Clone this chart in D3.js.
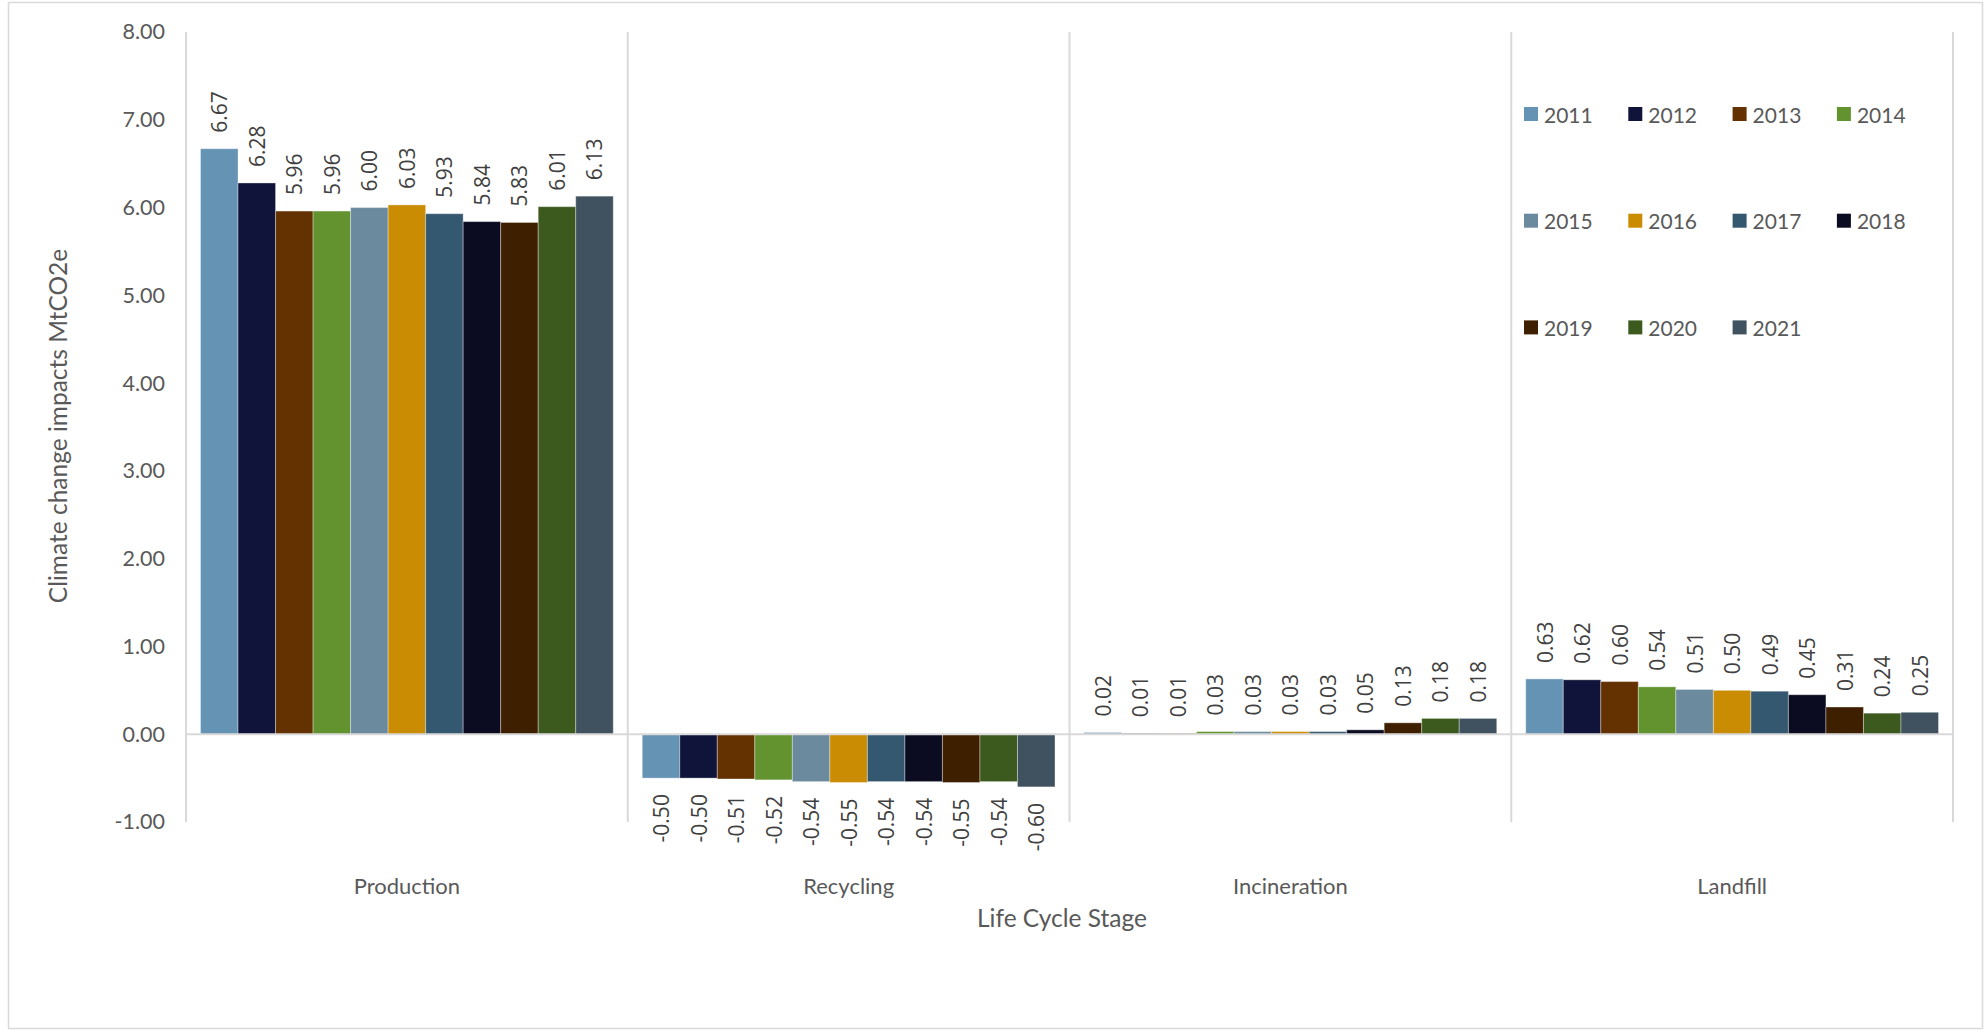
<!DOCTYPE html>
<html>
<head>
<meta charset="utf-8">
<script src="https://cdn.jsdelivr.net/npm/d3@7"></script>
<style>
  html, body { margin: 0; padding: 0; background: #fff; }
  svg { display: block; }
</style>
</head>
<body>
<svg id="chart" width="1986" height="1032"></svg>
<script>
// Life cycle stages (categories) and reporting years (series)
const stages = ["Production", "Recycling", "Incineration", "Landfill"];
const years = ["2011", "2012", "2013", "2014", "2015", "2016", "2017", "2018", "2019", "2020", "2021"];

// Climate change impacts per stage, one value per year (MtCO2e)
const production   = [6.67, 6.28, 5.96, 5.96, 6.00, 6.03, 5.93, 5.84, 5.83, 6.01, 6.13];
const recycling    = [-0.50, -0.50, -0.51, -0.52, -0.54, -0.55, -0.54, -0.54, -0.55, -0.54, -0.60];
const incineration = [0.02, 0.01, 0.01, 0.03, 0.03, 0.03, 0.03, 0.05, 0.13, 0.18, 0.18];
const landfill     = [0.63, 0.62, 0.60, 0.54, 0.51, 0.50, 0.49, 0.45, 0.31, 0.24, 0.25];

const yTicks = [-1, 0, 1, 2, 3, 4, 5, 6, 7, 8];

const yearColors = ["#6593b4", "#11143a", "#633200", "#62932f", "#6b8a9e", "#ca8c02",
                    "#34586f", "#0b0c22", "#3e1f00", "#3c5a1e", "#40525f"];

const stageValues = [production, recycling, incineration, landfill];
const table = stages.map((s, i) => ({
  stage: s,
  bars: years.map((y, j) => ({ year: y, value: stageValues[i][j] }))
}));

const svg = d3.select("#chart");
const fontAxis = "Lato, 'Open Sans', sans-serif";
const fontLabel = "'Open Sans', 'Noto Sans', sans-serif";

// outer chart frame
svg.append("rect")
  .attr("x", 8.5).attr("y", 2.5)
  .attr("width", 1974).attr("height", 1026)
  .attr("fill", "#fff").attr("stroke", "#d9d9d9").attr("stroke-width", 1.5);

const plot = { left: 186, right: 1953, top: 32, bottom: 822 };

const x0 = d3.scaleBand().domain(stages).range([plot.left, plot.right]).padding(0);
const x1 = d3.scaleBand().domain(years)
  .range([14.5, x0.bandwidth() - 14.5]).padding(0);
const y = d3.scaleLinear().domain([-1, 8]).range([plot.bottom, plot.top]);
const color = d3.scaleOrdinal().domain(years).range(yearColors);
// two decimals with a plain hyphen for negatives
const fmt = v => d3.format(".2f")(v).replace("\u2212", "-");

// category separators (vertical grid at band edges)
const edges = stages.map(s => x0(s)).concat([plot.right]);
svg.append("g").selectAll("line").data(edges).join("line")
  .attr("x1", d => d).attr("x2", d => d)
  .attr("y1", plot.top).attr("y2", plot.bottom)
  .attr("stroke", "#d9d9d9").attr("stroke-width", 2);

// y axis tick labels
const yAxis = d3.axisLeft(y).tickValues(yTicks).tickFormat(fmt).tickSize(0).tickPadding(21);
const gy = svg.append("g").attr("transform", `translate(${plot.left},0)`).call(yAxis);
gy.select(".domain").remove();
gy.selectAll("text")
  .attr("font-family", fontAxis).attr("font-size", 21.5).attr("fill", "#595959");

// bars
const groups = svg.append("g").selectAll("g").data(table).join("g")
  .attr("transform", d => `translate(${x0(d.stage)},0)`);

groups.selectAll("rect").data(d => d.bars).join("rect")
  .attr("x", d => x1(d.year))
  .attr("width", x1.bandwidth())
  .attr("y", d => y(Math.max(0, d.value)))
  .attr("height", d => Math.abs(y(d.value) - y(0)))
  .attr("fill", d => color(d.year))
  .attr("stroke", "rgba(255,255,255,0.35)").attr("stroke-width", 1);

// zero line
svg.append("line")
  .attr("x1", plot.left).attr("x2", plot.right)
  .attr("y1", y(0)).attr("y2", y(0))
  .attr("stroke", "#d9d9d9").attr("stroke-width", 2);

// rotated value labels
groups.selectAll("text.val").data(d => d.bars).join("text")
  .attr("class", "val")
  .attr("transform", d => {
    const cx = x1(d.year) + x1.bandwidth() / 2;
    const yy = d.value >= 0 ? y(d.value) - 16 : y(d.value) + 16;
    return `translate(${cx},${yy}) rotate(-90)`;
  })
  .attr("text-anchor", d => d.value >= 0 ? "start" : "end")
  .attr("dominant-baseline", "central")
  .attr("font-family", fontLabel).attr("font-size", 21).attr("fill", "#404040")
  .text(d => fmt(d.value));

// category labels
svg.append("g").selectAll("text").data(stages).join("text")
  .attr("x", d => x0(d) + x0.bandwidth() / 2)
  .attr("y", 885)
  .attr("text-anchor", "middle").attr("dominant-baseline", "central")
  .attr("font-family", fontAxis).attr("font-size", 22).attr("fill", "#595959")
  .text(d => d);

// axis titles
svg.append("text")
  .attr("x", 1062).attr("y", 917)
  .attr("text-anchor", "middle").attr("dominant-baseline", "central")
  .attr("font-family", fontAxis).attr("font-size", 24.5).attr("fill", "#595959")
  .text("Life Cycle Stage");

svg.append("text")
  .attr("transform", "translate(57,426) rotate(-90)")
  .attr("text-anchor", "middle").attr("dominant-baseline", "central")
  .attr("font-family", fontAxis).attr("font-size", 24.5).attr("fill", "#595959")
  .text("Climate change impacts MtCO2e");

// legend: 4 columns x 3 rows
const legend = svg.append("g").selectAll("g").data(years).join("g")
  .attr("transform", (d, i) => `translate(${1524 + (i % 4) * 104.3},${114 + Math.floor(i / 4) * 106.7})`);
legend.append("rect")
  .attr("x", 0).attr("y", -7).attr("width", 14).attr("height", 14)
  .attr("fill", d => color(d));
legend.append("text")
  .attr("x", 20).attr("y", 0).attr("dominant-baseline", "central")
  .attr("font-family", fontAxis).attr("font-size", 21).attr("fill", "#595959")
  .text(d => d);
</script>
</body>
</html>
